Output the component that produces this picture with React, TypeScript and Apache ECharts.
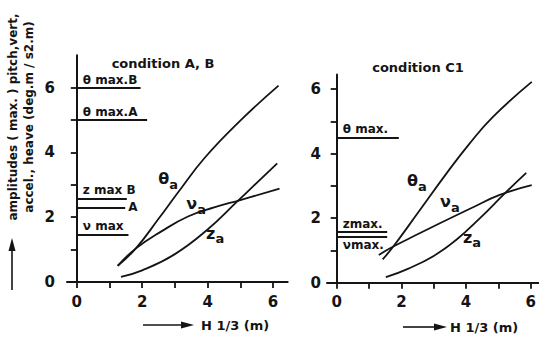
import React, { useEffect, useRef } from "react";
import * as echarts from "echarts";

// ---------- data ----------
const xTickValues = [0, 1, 2, 3, 4, 5, 6];
const xLabelValues = [0, 2, 4, 6];
const yTickValues = [0, 1, 2, 3, 4, 5, 6];
const yLabelValues = [0, 2, 4, 6];

// condition A, B
const thetaAB = [[1.25, 0.5], [1.8, 1.03], [2.5, 1.95], [3.1, 2.77], [3.9, 3.82], [5.0, 4.98], [6.17, 6.06]];
const nuAB = [[1.25, 0.5], [1.8, 1.03], [2.6, 1.57], [3.4, 2.02], [4.2, 2.3], [5.0, 2.53], [6.2, 2.88]];
const zAB = [[1.35, 0.16], [2.0, 0.36], [3.0, 0.86], [4.0, 1.62], [4.9, 2.48], [6.13, 3.66]];
const limitNamesAB = ["θ max.B", "θ max.A", "z max B", "A", "ν max"];
const limitValuesAB = [6, 5, 2.58, 2.3, 1.47];
const limitEndsAB = [1.95, 2.15, 1.53, 1.48, 1.58];

// condition C1
const thetaC1 = [[1.42, 0.72], [1.75, 1.12], [2.5, 2.15], [3.39, 3.38], [4.1, 4.3], [4.83, 5.14], [6.03, 6.22]];
const nuC1 = [[1.3, 0.86], [1.75, 1.12], [2.5, 1.5], [3.19, 1.84], [4.2, 2.33], [5.04, 2.72], [6.03, 3.02]];
const zC1 = [[1.52, 0.17], [2.2, 0.43], [3.0, 0.83], [3.7, 1.33], [4.43, 2.0], [5.19, 2.76], [5.86, 3.4]];
const limitNamesC1 = ["θ max.", "zmax.", "νmax."];
const limitValuesC1 = [4.5, 1.58, 1.42];
const limitEndsC1 = [1.92, 1.56, 1.56];

const INK = "#141414";
const FONT = "DejaVu Sans";

function curveSeries(name: string, data: number[][], idx: number, labelCoord: number[]) {
  return {
    type: "line",
    name,
    data,
    xAxisIndex: idx,
    yAxisIndex: idx,
    smooth: 0.45,
    symbol: "none",
    silent: true,
    lineStyle: { color: INK, width: 1.8 },
    markPoint: {
      symbol: "circle",
      symbolSize: 1,
      silent: true,
      itemStyle: { color: "rgba(0,0,0,0)" },
      data: [
        {
          coord: labelCoord,
          label: {
            show: true,
            position: "inside",
            formatter: `{t|${name}}{s|a}`,
            rich: {
              t: { fontSize: 16, fontFamily: FONT, fontWeight: "bold", color: INK, lineHeight: 18, verticalAlign: "top" },
              s: { fontSize: 13, fontFamily: FONT, fontWeight: "bold", color: INK, lineHeight: 20, verticalAlign: "bottom" },
            },
          },
        },
      ],
    },
  };
}

function limitLines(names: string[], values: number[], ends: number[], positions: string[]) {
  return names.map((n, i) => [
    {
      coord: [0, values[i]],
      label: {
        show: true,
        position: positions[i],
        formatter: n,
        color: INK,
        fontFamily: FONT,
        fontWeight: "bold",
        fontSize: 12,
        distance: positions[i] === "end" ? 3 : [6, 2],
      },
    },
    { coord: [ends[i], values[i]] },
  ]);
}

function axisPair(idx: number, xMax: number, yMax: number, yLabelMargin: number) {
  const axisLine = { show: true, onZero: true, lineStyle: { color: INK, width: 2 } };
  const tick = { show: true, length: 6, lineStyle: { color: INK, width: 1.8 } };
  const lab = { color: INK, fontSize: 15, fontWeight: "bold", fontFamily: FONT };
  return {
    x: {
      type: "value",
      gridIndex: idx,
      min: -0.3,
      max: xMax,
      axisLine,
      axisTick: { ...tick, customValues: xTickValues },
      axisLabel: { ...lab, customValues: xLabelValues, margin: 12 },
      splitLine: { show: false },
    },
    y: {
      type: "value",
      gridIndex: idx,
      min: 0,
      max: yMax,
      axisLine,
      axisTick: { ...tick, customValues: yTickValues },
      axisLabel: { ...lab, customValues: yLabelValues, margin: yLabelMargin },
      splitLine: { show: false },
    },
  };
}

function arrow(x1: number, y1: number, x2: number, y2: number) {
  const dx = x2 - x1, dy = y2 - y1;
  const len = Math.sqrt(dx * dx + dy * dy);
  const ux = dx / len, uy = dy / len;
  const hl = 13, hw = 3.5;
  const bx = x2 - ux * hl, by = y2 - uy * hl;
  return [
    { type: "line", shape: { x1, y1, x2: bx, y2: by }, style: { stroke: INK, lineWidth: 1.6 }, silent: true },
    {
      type: "polygon",
      shape: { points: [[x2, y2], [bx - uy * hw, by + ux * hw], [bx + uy * hw, by - ux * hw]] },
      style: { fill: INK },
      silent: true,
    },
  ];
}

export default function App() {
  const ref = useRef<HTMLDivElement>(null);
  useEffect(() => {
    document.body.style.margin = "0";
    const chart = echarts.init(ref.current!, null, { renderer: "svg" });
    const a0 = axisPair(0, 6.45, 7, 12);
    const a1 = axisPair(1, 6.25, 6.45, 6);
    const textStyle = (t: string, x: number, y: number, size: number, align = "center", rot = 0) => ({
      type: "text",
      x,
      y,
      rotation: rot,
      silent: true,
      style: { text: t, fill: INK, font: `bold ${size}px ${FONT}`, align, verticalAlign: "middle" },
    });
    const thetaAbSeries: any = curveSeries("θ", thetaAB, 0, [2.79, 3.12]);
    thetaAbSeries.markLine = {
      symbol: ["none", "none"],
      silent: true,
      lineStyle: { color: INK, width: 1.8, type: "solid" },
      data: limitLines(limitNamesAB, limitValuesAB, limitEndsAB, [
        "insideStartTop", "insideStartTop", "insideStartTop", "end", "insideStartTop",
      ]),
    };
    const thetaC1Series: any = curveSeries("θ", thetaC1, 1, [2.48, 3.09]);
    thetaC1Series.markLine = {
      symbol: ["none", "none"],
      silent: true,
      lineStyle: { color: INK, width: 1.8, type: "solid" },
      data: limitLines(limitNamesC1, limitValuesC1, limitEndsC1, [
        "insideStartTop", "insideStartTop", "insideStartBottom",
      ]),
    };
    chart.setOption({
      animation: false,
      grid: [
        { left: 67, top: 55.2, width: 220.7, height: 226.8 },
        { left: 327, top: 74.5, width: 212.5, height: 208.2 },
      ],
      xAxis: [a0.x, a1.x],
      yAxis: [a0.y, a1.y],
      series: [
        thetaAbSeries,
        curveSeries("ν", nuAB, 0, [3.65, 2.35]),
        curveSeries("z", zAB, 0, [4.23, 1.45]),
        thetaC1Series,
        curveSeries("ν", nuC1, 1, [3.5, 2.44]),
        curveSeries("z", zC1, 1, [4.18, 1.35]),
      ],
      graphic: [
        textStyle("condition A, B", 163, 63, 13),
        textStyle("condition C1", 418, 67, 13),
        textStyle("amplitudes ( max. ) pitch,vert,", 13, 117, 12, "center", Math.PI / 2),
        textStyle("accel., heave (deg.m / s2.m)", 29, 117, 12, "center", Math.PI / 2),
        ...arrow(12, 290, 12, 238),
        ...arrow(143, 325, 194, 325),
        textStyle("H 1/3 (m)", 201, 325, 13, "left"),
        ...arrow(403, 327, 447, 327),
        textStyle("H 1/3 (m)", 450, 327, 13, "left"),
      ],
    });
    return () => chart.dispose();
  }, []);
  return <div ref={ref} style={{ width: 539, height: 339, background: "#fff" }} />;
}
